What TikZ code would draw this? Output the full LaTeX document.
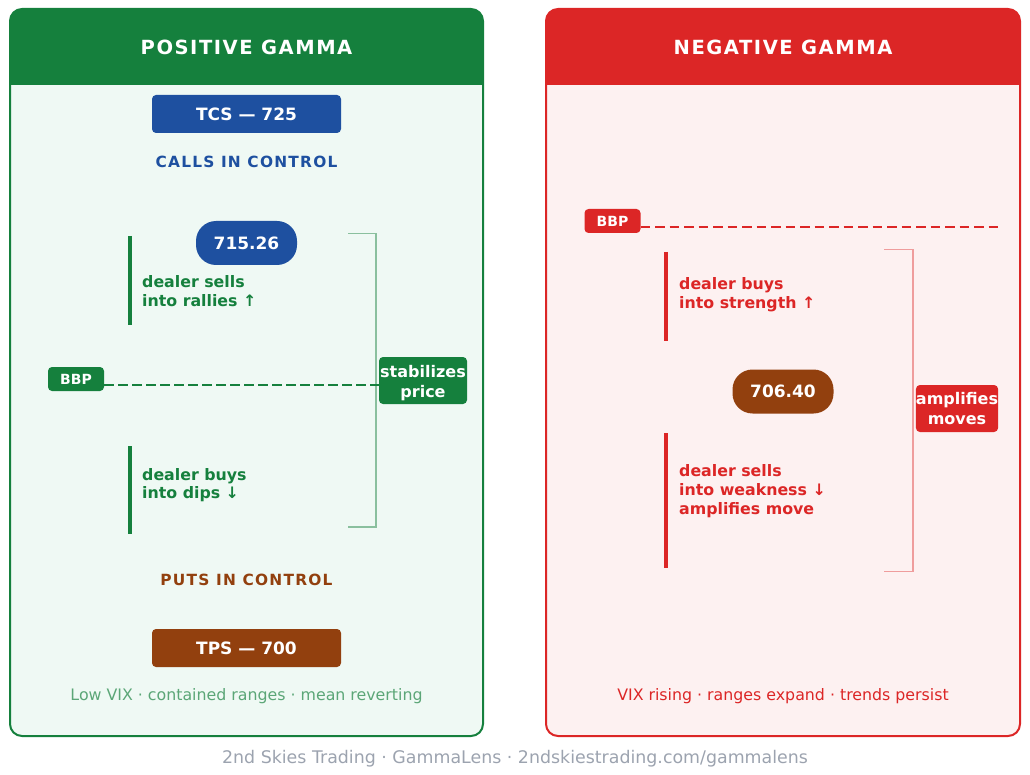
\documentclass[tikz,border=0pt]{standalone}
\usepackage{fontspec}
\setmainfont{DejaVu Sans}
\newfontfamily\spacedfont[LetterSpace=8]{DejaVu Sans Bold}
\usetikzlibrary{positioning}
\definecolor{posgreen}{HTML}{15803D}
\definecolor{neggred}{HTML}{DC2626}
\definecolor{callblue}{HTML}{1E50A0}
\definecolor{putbrown}{HTML}{92400E}
\definecolor{posfill}{HTML}{EFF9F4}
\definecolor{negfill}{HTML}{FDF1F1}
\definecolor{footgray}{HTML}{9CA3AF}
\tikzset{
	panel/.style = {line width=2pt, rounded corners=12pt},
	title/.style = {text=white, font=\fontsize{19.5}{22}\spacedfont},
	strike/.style = {rounded corners=4pt, text=white, minimum width=189pt, minimum height=38pt, inner sep=0pt, font=\fontsize{17}{20}\bfseries},
	ctrl/.style = {font=\fontsize{15.4}{19}\spacedfont},
	pill/.style = {rounded corners=20pt, text=white, minimum width=101pt, minimum height=44pt, inner sep=0pt, font=\fontsize{17}{20}\bfseries},
	tag/.style = {rounded corners=4pt, text=white, minimum width=56pt, minimum height=24pt, inner sep=0pt, font=\fontsize{14}{16}\bfseries},
	note/.style = {anchor=west, align=left, inner sep=0pt, font=\fontsize{15.8}{18.7}\bfseries},
	effect/.style = {rounded corners=4pt, text=white, align=center, inner sep=0pt, font=\fontsize{16}{19.5}\bfseries},
	bar/.style = {line width=4pt},
	bracket/.style = {line width=1.2pt},
	level/.style = {line width=2.5pt, dashed, dash pattern=on 9.5pt off 4.5pt},
	summary/.style = {font=\fontsize{15.8}{19}\selectfont},
}
\begin{document}
\begin{tikzpicture}[x=1pt, y=-1pt]
	\useasboundingbox (0,0) rectangle (1030,775);
	% left panel
	\draw[panel, draw=posgreen, fill=posfill] (10,9) rectangle (483,736);
	\fill[posgreen] (10,85) [rounded corners=12pt] -- (10,9) -- (483,9) [sharp corners] -- (483,85) -- cycle;
	\node[title] (posT) at (246.5,47) {POSITIVE GAMMA};
	\node[strike, fill=callblue] (tcs) at (246.5,114) {TCS — 725};
	\node[ctrl, text=callblue] (calls) at (246.5,161.5) {CALLS IN CONTROL};
	\node[pill, fill=callblue] (spotP) at (246.5,243) {715.26};
	\node[note, text=posgreen] (sells) at (142,291) {dealer sells\\into rallies ↑};
	\node[note, text=posgreen] (buys) at (142,485) {dealer buys\\into dips ↓};
	\node[ctrl, text=putbrown] (puts) at (246.5,580) {PUTS IN CONTROL};
	\node[strike, fill=putbrown] (tps) at (246.5,648) {TPS — 700};
	\node[summary, text=posgreen!70!white] (lowvix) at (246.5,696) {Low VIX · contained ranges · mean reverting};
	\draw[bar, posgreen] (129.5,236) -- (129.5,325);
	\draw[bar, posgreen] (129.5,446) -- (129.5,534);
	\coordinate (brPa) at (348,233.5);
	\coordinate (brPb) at (376,233.5);
	\coordinate (brPc) at (376,527);
	\coordinate (brPd) at (348,527);
	\draw[bracket, posgreen!50!white] (brPa) -- (brPb) -- (brPc) -- (brPd);
	\node[tag, fill=posgreen] (bbpP) at (76,379) {BBP};
	\node[effect, fill=posgreen, minimum width=88pt, minimum height=47pt, text depth=0pt] (stab) at (423,380.5) {\raisebox{-2pt}{stabilizes}\\\raisebox{-2pt}{price}};
	\draw[level, posgreen] ([yshift=-6pt]bbpP.east) -- ([yshift=-4.5pt]stab.west);
	% right panel
	\draw[panel, draw=neggred, fill=negfill] (546,9) rectangle (1020,736);
	\fill[neggred] (546,85) [rounded corners=12pt] -- (546,9) -- (1020,9) [sharp corners] -- (1020,85) -- cycle;
	\node[title] (negT) at (783,47) {NEGATIVE GAMMA};
	\node[note, text=neggred] (buysN) at (679,295) {dealer buys\\into strength ↑};
	\node[pill, fill=putbrown] (spotN) at (783,391.5) {706.40};
	\node[note, text=neggred] (sellsN) at (679,491) {dealer sells\\into weakness ↓\\amplifies move};
	\node[summary, text=neggred] (vixup) at (783,696) {VIX rising · ranges expand · trends persist};
	\draw[bar, neggred] (666,252) -- (666,341);
	\draw[bar, neggred] (666,433) -- (666,568);
	\coordinate (brNa) at (884,249.5);
	\coordinate (brNb) at (913,249.5);
	\coordinate (brNc) at (913,571.5);
	\coordinate (brNd) at (884,571.5);
	\draw[bracket, neggred!45!white] (brNa) -- (brNb) -- (brNc) -- (brNd);
	\node[tag, fill=neggred] (bbpN) at (612.5,221) {BBP};
	\coordinate (bbpEnd) at (998,227);
	\draw[neggred, line width=2pt, dashed, dash pattern=on 9.5pt off 5pt] ([yshift=-6pt]bbpN.east) -- (bbpEnd);
	\node[effect, fill=neggred, minimum width=82pt, minimum height=47pt] (ampl) at (957,408.5) {amplifies\\moves};
	% footer
	\node[font=\fontsize{17.4}{20}\selectfont, text=footgray] (foot) at (515,759) {2nd Skies Trading · GammaLens · 2ndskiestrading.com/gammalens};
\end{tikzpicture}
\end{document}
